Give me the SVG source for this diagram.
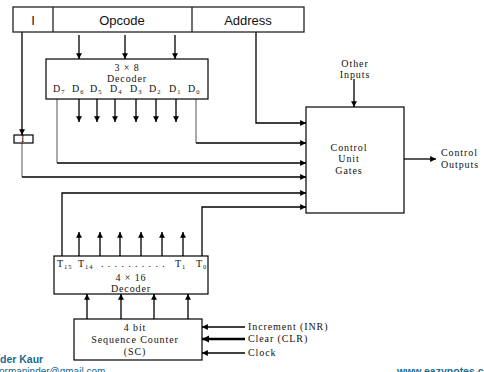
<svg xmlns="http://www.w3.org/2000/svg" width="484" height="372" viewBox="0 0 484 372">
<style>
.box{fill:#fff;stroke:#000;stroke-width:1.2}
.reg{fill:#fff;stroke:#222;stroke-width:1.3}
.ln{fill:none;stroke:#000;stroke-width:1.3}
.gl{fill:none;stroke:#555;stroke-width:1}
.thick{fill:none;stroke:#000;stroke-width:2.4}
.sans{font-family:"Liberation Sans",Arial,sans-serif;font-size:13px;fill:#111}
.ser{font-family:"Liberation Serif","Times New Roman",serif;font-size:10px;fill:#111;letter-spacing:0.9px}
.sub{font-size:6.5px}
.foot{font-family:"Liberation Sans",Arial,sans-serif;font-weight:bold;fill:#1b6b8c}
</style>
<defs>
<marker id="ah" viewBox="0 0 10 10" refX="10" refY="5" markerWidth="4.5" markerHeight="4.5" orient="auto" markerUnits="strokeWidth">
<path d="M0,0L10,5L0,10z" fill="#000"/>
</marker>
<marker id="ah2" viewBox="0 0 10 10" refX="10" refY="5" markerWidth="3" markerHeight="3" orient="auto" markerUnits="strokeWidth">
<path d="M0,0L10,5L0,10z" fill="#000"/>
</marker>
</defs>
<rect width="484" height="372" fill="#fff"/>

<g id="connectors">
<path class="ln" d="M79,35V59" marker-end="url(#ah)"/>
<path class="ln" d="M125,35V59" marker-end="url(#ah)"/>
<path class="ln" d="M175,35V59" marker-end="url(#ah)"/>
<path class="ln" d="M79,99V122" marker-end="url(#ah)"/>
<path class="ln" d="M97,99V122" marker-end="url(#ah)"/>
<path class="ln" d="M115,99V122" marker-end="url(#ah)"/>
<path class="ln" d="M136,99V122" marker-end="url(#ah)"/>
<path class="ln" d="M156,99V122" marker-end="url(#ah)"/>
<path class="ln" d="M176,99V122" marker-end="url(#ah)"/>
<path class="ln" d="M22,32V135" marker-end="url(#ah)"/>
<path class="ln" d="M256,32V123H306" marker-end="url(#ah)"/>
<path class="gl" d="M196,99V143"/>
<path class="ln" d="M196,143H306" marker-end="url(#ah)"/>
<path class="gl" d="M57,99V163"/>
<path class="ln" d="M57,163H306" marker-end="url(#ah)"/>
<path class="gl" d="M22,143V177"/>
<path class="ln" d="M22,177H306" marker-end="url(#ah)"/>
<path class="ln" d="M62,256V193H306" marker-end="url(#ah)"/>
<path class="ln" d="M202,256V207H306" marker-end="url(#ah)"/>
<path class="ln" d="M354,79V107" marker-end="url(#ah)"/>
<path class="ln" d="M404,159H436" marker-end="url(#ah)"/>
<path class="ln" d="M79,256V232" marker-end="url(#ah)"/>
<path class="ln" d="M100,256V232" marker-end="url(#ah)"/>
<path class="ln" d="M120,256V232" marker-end="url(#ah)"/>
<path class="ln" d="M141,256V232" marker-end="url(#ah)"/>
<path class="ln" d="M162,256V232" marker-end="url(#ah)"/>
<path class="ln" d="M183,256V232" marker-end="url(#ah)"/>
<path class="ln" d="M87,319V294" marker-end="url(#ah)"/>
<path class="ln" d="M121,319V294" marker-end="url(#ah)"/>
<path class="ln" d="M154,319V294" marker-end="url(#ah)"/>
<path class="ln" d="M188,319V294" marker-end="url(#ah)"/>
<path class="ln" d="M245,327H202" marker-end="url(#ah)"/>
<path class="thick" d="M245,339H202" marker-end="url(#ah2)"/>
<path class="ln" d="M245,353H202" marker-end="url(#ah)"/>
</g>

<g id="instruction-register">
<rect class="reg" x="13" y="7" width="291" height="25"/>
<line class="reg" x1="53" y1="7" x2="53" y2="32"/>
<line class="reg" x1="192" y1="7" x2="192" y2="32"/>
<text class="sans" x="33" y="25" text-anchor="middle">I</text>
<text class="sans" x="122" y="25" text-anchor="middle">Opcode</text>
<text class="sans" x="248" y="25" text-anchor="middle">Address</text>
</g>

<g id="decoder-3x8">
<rect class="box" x="46" y="59" width="162" height="40"/>
<text class="ser" x="127" y="71" text-anchor="middle" fill="#555">3 × 8</text>
<text class="ser" x="127" y="82" text-anchor="middle">Decoder</text>
<text class="ser" x="53" y="92">D<tspan class="sub" dy="1.5">7</tspan></text>
<text class="ser" x="72" y="92">D<tspan class="sub" dy="1.5">6</tspan></text>
<text class="ser" x="90" y="92">D<tspan class="sub" dy="1.5">5</tspan></text>
<text class="ser" x="110" y="92">D<tspan class="sub" dy="1.5">4</tspan></text>
<text class="ser" x="130" y="92">D<tspan class="sub" dy="1.5">3</tspan></text>
<text class="ser" x="149" y="92">D<tspan class="sub" dy="1.5">2</tspan></text>
<text class="ser" x="169" y="92">D<tspan class="sub" dy="1.5">1</tspan></text>
<text class="ser" x="188" y="92">D<tspan class="sub" dy="1.5">0</tspan></text>
</g>

<g id="i-flipflop">
<rect class="box" x="14" y="135" width="19" height="8" stroke-width="1"/>
<text class="ser" x="23" y="142" text-anchor="middle" font-size="7">I</text>
</g>

<g id="other-inputs">
<text class="ser" x="355" y="67" text-anchor="middle">Other</text>
<text class="ser" x="355" y="78" text-anchor="middle">Inputs</text>
</g>

<g id="control-unit">
<rect class="box" x="306" y="107" width="98" height="106"/>
<text class="ser" x="349" y="151" text-anchor="middle">Control</text>
<text class="ser" x="349" y="162" text-anchor="middle">Unit</text>
<text class="ser" x="349" y="174" text-anchor="middle">Gates</text>
</g>

<g id="control-outputs">
<text class="ser" x="441" y="156">Control</text>
<text class="ser" x="441" y="168">Outputs</text>
</g>

<g id="decoder-4x16">
<rect class="box" x="54" y="256" width="154" height="38"/>
<text class="ser" x="57" y="267">T<tspan class="sub" dy="1.5">15</tspan></text>
<text class="ser" x="78" y="267">T<tspan class="sub" dy="1.5">14</tspan></text>
<text class="ser" x="101" y="267" fill="#999" letter-spacing="1px">. . . . . . . . . .</text>
<text class="ser" x="175" y="267">T<tspan class="sub" dy="1.5">1</tspan></text>
<text class="ser" x="196" y="267">T<tspan class="sub" dy="1.5">0</tspan></text>
<text class="ser" x="131" y="281" text-anchor="middle">4 × 16</text>
<text class="ser" x="131" y="292" text-anchor="middle">Decoder</text>
</g>

<g id="sequence-counter">
<rect class="box" x="74" y="319" width="128" height="41"/>
<text class="ser" x="135" y="331" text-anchor="middle">4 bit</text>
<text class="ser" x="135" y="343" text-anchor="middle">Sequence Counter</text>
<text class="ser" x="135" y="355" text-anchor="middle">(SC)</text>
</g>

<g id="sc-inputs">
<text class="ser" x="248" y="330">Increment (INR)</text>
<text class="ser" x="248" y="342">Clear (CLR)</text>
<text class="ser" x="248" y="356">Clock</text>
</g>

<g id="footer">
<text class="foot" x="0" y="363" font-size="10.5">der Kaur</text>
<text x="-1" y="375" font-family="Liberation Sans, Arial, sans-serif" font-size="10" fill="#1b6b8c">ormaninder@gmail.com</text>
<text class="foot" x="397" y="375" font-size="10.5">www.eazynotes.com</text>
</g>
</svg>
